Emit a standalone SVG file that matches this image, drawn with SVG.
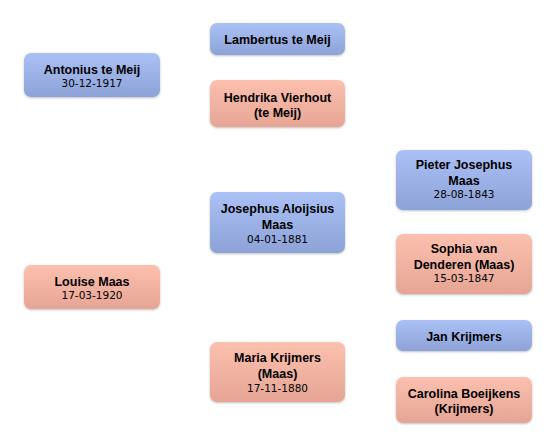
<svg xmlns="http://www.w3.org/2000/svg" width="556" height="448" viewBox="0 0 556 448">
<defs>
<linearGradient id="gb" x1="0" y1="0" x2="0" y2="1"><stop offset="0" stop-color="#abc1f6"/><stop offset="1" stop-color="#8da3d7"/></linearGradient>
<linearGradient id="gp" x1="0" y1="0" x2="0" y2="1"><stop offset="0" stop-color="#fcc0ae"/><stop offset="1" stop-color="#e6a594"/></linearGradient>
<filter id="sh" x="-10%" y="-20%" width="120%" height="150%"><feDropShadow dx="0" dy="1" stdDeviation="1" flood-color="#000" flood-opacity="0.25"/></filter>
<style>
.b{fill:url(#gb);filter:url(#sh)}
.p{fill:url(#gp);filter:url(#sh)}
text{font-family:"Liberation Sans",Arial,sans-serif;text-anchor:middle;fill:#000}
.n{font-size:12.5px;font-weight:bold}
.d{font-family:"DejaVu Sans",sans-serif;font-size:10.5px}
</style>
</defs>
<g id="antonius"><rect class="b" x="24" y="53" width="136" height="44" rx="7"/><text class="n" x="92" y="74">Antonius te Meij</text><text class="d" x="92" y="87">30-12-1917</text></g>
<g id="louise"><rect class="p" x="24" y="265" width="136" height="44" rx="7"/><text class="n" x="92" y="286">Louise Maas</text><text class="d" x="92" y="299">17-03-1920</text></g>
<g id="lambertus"><rect class="b" x="210" y="23" width="135" height="32" rx="7"/><text class="n" x="277.5" y="44">Lambertus te Meij</text></g>
<g id="hendrika"><rect class="p" x="210" y="80" width="135" height="47" rx="7"/><text class="n" x="277.5" y="102">Hendrika Vierhout</text><text class="n" x="277.5" y="117">(te Meij)</text></g>
<g id="josephus"><rect class="b" x="210" y="192" width="135" height="61" rx="7"/><text class="n" x="277.5" y="213">Josephus Aloijsius</text><text class="n" x="277.5" y="229">Maas</text><text class="d" x="277.5" y="243">04-01-1881</text></g>
<g id="maria"><rect class="p" x="210" y="342" width="135" height="60" rx="7"/><text class="n" x="277.5" y="362">Maria Krijmers</text><text class="n" x="277.5" y="378">(Maas)</text><text class="d" x="277.5" y="392">17-11-1880</text></g>
<g id="pieter"><rect class="b" x="396" y="150" width="136" height="60" rx="7"/><text class="n" x="464" y="169">Pieter Josephus</text><text class="n" x="464" y="185">Maas</text><text class="d" x="464" y="198">28-08-1843</text></g>
<g id="sophia"><rect class="p" x="396" y="234" width="136" height="60" rx="7"/><text class="n" x="464" y="253">Sophia van</text><text class="n" x="464" y="269">Denderen (Maas)</text><text class="d" x="464" y="282">15-03-1847</text></g>
<g id="jan"><rect class="b" x="396" y="320" width="136" height="31" rx="7"/><text class="n" x="464" y="341">Jan Krijmers</text></g>
<g id="carolina"><rect class="p" x="396" y="377" width="136" height="46" rx="7"/><text class="n" x="464" y="398">Carolina Boeijkens</text><text class="n" x="464" y="413">(Krijmers)</text></g>
<g id="connectors"></g>
</svg>
